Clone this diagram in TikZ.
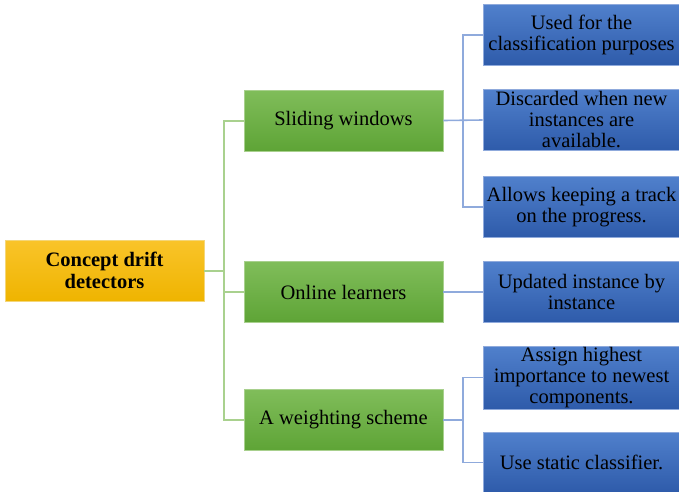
\documentclass[tikz,border=0pt]{standalone}
\usepackage{fontspec}
\setmainfont{Liberation Serif}
\begin{document}
\begin{tikzpicture}[x=1pt,y=-1pt,
  box/.style={rectangle, minimum width=199pt, minimum height=61pt, inner sep=1pt,
    align=center, font=\fontsize{20.5}{21}\selectfont},
  rootbox/.style={box, top color=rootTop, bottom color=rootBot, draw=rootEdge, line width=0.6pt,
    font=\fontsize{20.5}{22}\selectfont\bfseries},
  greenbox/.style={box, top color=greenTop, bottom color=greenBot, draw=greenEdge, line width=0.6pt},
  bluebox/.style={box, minimum width=197pt, top color=blueTop, bottom color=blueBot, draw=blueEdge, line width=0.6pt},
  gline/.style={draw=greenLine, line width=2pt},
  bline/.style={draw=blueLine, line width=1.6pt}
]
\definecolor{rootTop}{HTML}{F9C42A}
\definecolor{rootBot}{HTML}{EFB400}
\definecolor{rootEdge}{HTML}{F4D679}
\definecolor{greenTop}{HTML}{80BD5A}
\definecolor{greenBot}{HTML}{5EA436}
\definecolor{greenEdge}{HTML}{A8D08D}
\definecolor{blueTop}{HTML}{5080CC}
\definecolor{blueBot}{HTML}{2E5BAA}
\definecolor{blueEdge}{HTML}{8FAADC}
\definecolor{greenLine}{HTML}{A9D18E}
\definecolor{blueLine}{HTML}{8FAADC}

\useasboundingbox (0,0) rectangle (679,491);

% root and first level
\node[rootbox] (root) at (104.5,270.5) {Concept drift\\detectors};
\node[greenbox] (sw) at (343.5,120.5) {Sliding windows};
\node[greenbox] (ol) at (343.5,292) {Online learners};
\node[greenbox] (ws) at (343.5,420) {A weighting scheme};

% second level
\node[bluebox] (b1) at (581.5,35) {Used for the\\classification purposes};
\node[bluebox] (b2) at (581.5,120) {Discarded when new\\instances are\\available.};
\node[bluebox] (b3) at (581.5,207) {Allows keeping a track\\on the progress.};
\node[bluebox] (b4) at (581.5,292) {Updated instance by\\instance};
\node[bluebox] (b5) at (581.5,377.5) {Assign highest\\importance to newest\\components.};
\node[bluebox] (b6) at (581.5,462.5) {Use static classifier.};

% green trunk
\coordinate (gt) at (224,0);
\draw[gline] (root.east) -- (root.east -| gt);
\draw[gline] (sw.west) -- (sw.west -| gt) -- (ws.west -| gt) -- (ws.west);
\draw[gline] (ol.west) -- (ol.west -| gt);

% blue branches
\coordinate (bt) at (463,0);
\draw[bline] (sw.east) -- (b2.west);
\draw[bline] (b1.west) -- (b1.west -| bt) -- (b3.west -| bt) -- (b3.west);
\draw[bline] (ol.east) -- (b4.west);
\draw[bline] (ws.east) -- (ws.east -| bt);
\draw[bline] (b5.west) -- (b5.west -| bt) -- (b6.west -| bt) -- (b6.west);
\end{tikzpicture}
\end{document}
